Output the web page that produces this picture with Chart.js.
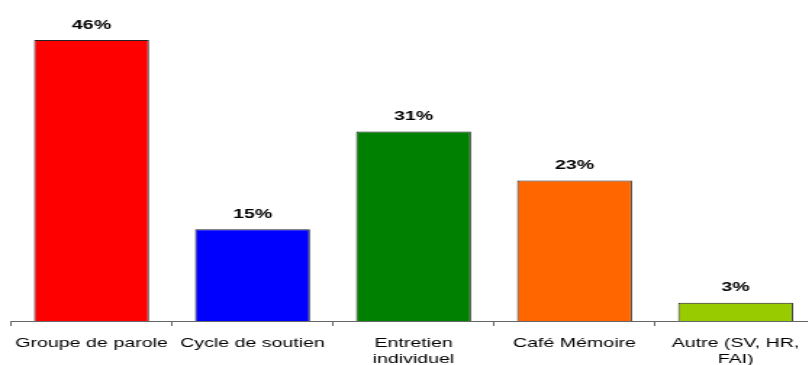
<!DOCTYPE html>
<html>
<head>
<meta charset="utf-8">
<script src="https://cdn.jsdelivr.net/npm/chart.js@4"></script>
<style>
  html, body { margin: 0; padding: 0; background: #fff; overflow: hidden; }
  #wrap { width: 566px; height: 365px; transform: scaleX(1.45); transform-origin: 0 0; }
</style>
</head>
<body>
<div id="wrap"><canvas id="chart"></canvas></div>
<script>
// categories and values
const categories = ['Groupe de parole', 'Cycle de soutien', ['Entretien', 'individuel'], 'Café Mémoire', ['Autre (SV, HR,', 'FAI)']];
const percents = [46, 15, 31, 23, 3];
const barColors = ['#FF0000', '#0000FF', '#008000', '#FF6600', '#99CC00'];

// draws "46%" etc. above each bar
const valueLabels = {
    id: 'valueLabels',
    afterDatasetsDraw(chart) {
        const ctx = chart.ctx;
        const meta = chart.getDatasetMeta(0);
        ctx.save();
        ctx.font = 'bold 13.5px "Liberation Sans", Arial, sans-serif';
        ctx.fillStyle = '#000';
        ctx.textAlign = 'center';
        ctx.textBaseline = 'middle';
        meta.data.forEach(function (bar, i) {
            ctx.fillText(percents[i] + '%', bar.x, bar.y - 15);
        });
        ctx.restore();
    }
};

const ctx = document.getElementById('chart').getContext('2d');
new Chart(ctx, {
    type: 'bar',
    data: {
        labels: categories,
        datasets: [{
            data: percents,
            backgroundColor: barColors,
            borderColor: '#222',
            borderWidth: 1,
            borderSkipped: 'bottom',
            categoryPercentage: 1,
            barPercentage: 0.714
        }]
    },
    options: {
        responsive: true,
        maintainAspectRatio: false,
        animation: false,
        layout: {
            padding: { left: 7.6, right: 3.2, top: 15.5, bottom: 0 }
        },
        scales: {
            x: {
                offset: true,
                afterFit(scale) { scale.height = 44; },
                border: { display: true, color: '#666', width: 1 },
                grid: {
                    offset: true,
                    drawOnChartArea: false,
                    drawTicks: true,
                    tickLength: 5,
                    color: '#666'
                },
                ticks: {
                    color: '#000',
                    padding: 9,
                    maxRotation: 0,
                    autoSkip: false,
                    font: { family: '"Liberation Sans", Arial, sans-serif', size: 13.5, lineHeight: 1.2 }
                }
            },
            y: {
                display: false,
                min: 0,
                max: 50
            }
        },
        plugins: {
            legend: { display: false },
            tooltip: { enabled: false }
        }
    },
    plugins: [valueLabels]
});
</script>
</body>
</html>
